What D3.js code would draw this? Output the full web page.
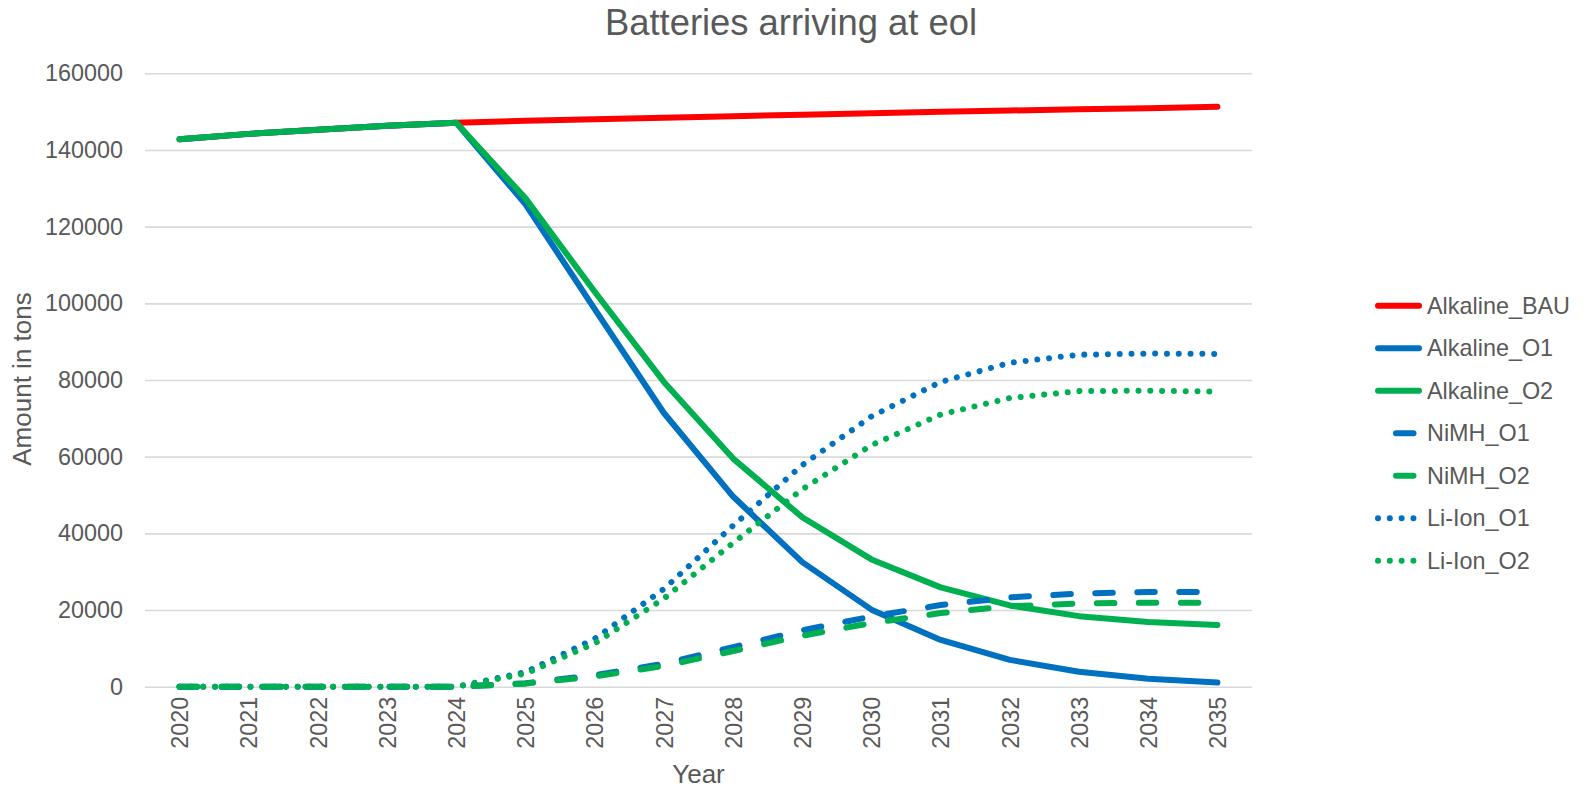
<!DOCTYPE html>
<html>
<head>
<meta charset="utf-8">
<script src="https://cdn.jsdelivr.net/npm/d3@7"></script>
<style>
  html, body { margin: 0; padding: 0; background: #fff; }
  svg { display: block; font-family: "Liberation Sans", Arial, sans-serif; }
</style>
</head>
<body>
<svg id="chart" width="1588" height="790"></svg>
<script>
// ---- data ----
const years = ["2020","2021","2022","2023","2024","2025","2026","2027","2028","2029","2030","2031","2032","2033","2034","2035"];
const alkalineBAU = [142800,144200,145300,146300,147100,147600,148000,148400,148800,149200,149600,150000,150300,150600,150900,151300];
const alkalineO1  = [142800,144200,145300,146300,147100,125800,98500,71400,49600,32500,20100,12200,7000,3900,2100,1100];
const alkalineO2  = [142800,144200,145300,146300,147100,127400,103000,79500,59500,44200,33200,25900,21200,18400,16900,16100];
const nimhO1      = [0,0,0,0,0,900,3000,6000,10300,14700,18300,21300,23300,24300,24700,24700];
const nimhO2      = [0,0,0,0,0,800,2700,5400,9300,13300,16600,19200,21000,21700,21900,21900];
const liionO1     = [0,0,0,0,0,3800,12500,25500,42000,57800,70500,79500,84500,86600,86900,86800];
const liionO2     = [0,0,0,0,0,3400,11300,23000,37500,51500,63000,71000,75300,77100,77200,77000];
const yTicks = [0,20000,40000,60000,80000,100000,120000,140000,160000];
const seriesNames = ["Alkaline_BAU","Alkaline_O1","Alkaline_O2","NiMH_O1","NiMH_O2","Li-Ion_O1","Li-Ion_O2"];

const RED = "#FF0000", BLUE = "#0070C0", GREEN = "#00B050";
const series = [
  {name: seriesNames[0], values: alkalineBAU, color: RED,   style: "solid"},
  {name: seriesNames[1], values: alkalineO1,  color: BLUE,  style: "solid"},
  {name: seriesNames[2], values: alkalineO2,  color: GREEN, style: "solid"},
  {name: seriesNames[3], values: nimhO1,      color: BLUE,  style: "dash"},
  {name: seriesNames[4], values: nimhO2,      color: GREEN, style: "dash"},
  {name: seriesNames[5], values: liionO1,     color: BLUE,  style: "dot"},
  {name: seriesNames[6], values: liionO2,     color: GREEN, style: "dot"}
];

const TEXT = "#595959";
const GRID = "#D9D9D9";
const LW = 6;
const dashArr = {solid: null, dash: "17.5,24.5", dot: "0.01,11.8"};

const svg = d3.select("#chart");
const pLeft = 145, pRight = 1252, pTop = 73.3, pBottom = 686.7;

const x = d3.scalePoint().domain(years).range([pLeft, pRight]).padding(0.5);
const y = d3.scaleLinear().domain([0, 160000]).range([pBottom, pTop]);

// gridlines + y labels
const yAxis = d3.axisLeft(y).tickValues(yTicks).tickSize(-(pRight - pLeft)).tickPadding(22).tickFormat(d3.format("d"));
const gy = svg.append("g").attr("transform", `translate(${pLeft},0)`).call(yAxis);
gy.select(".domain").remove();
gy.selectAll(".tick line").attr("stroke", GRID).attr("stroke-width", 1.6);
gy.selectAll(".tick text").attr("fill", TEXT).attr("font-size", 23.4).attr("font-family", "Liberation Sans, Arial, sans-serif");

// x labels
const xAxis = d3.axisBottom(x).tickSize(0).tickPadding(0);
const gx = svg.append("g").attr("transform", `translate(0,${pBottom})`).call(xAxis);
gx.select(".domain").remove();
gx.selectAll(".tick text")
  .attr("fill", TEXT).attr("font-size", 23.4).attr("font-family", "Liberation Sans, Arial, sans-serif")
  .attr("text-anchor", "end")
  .attr("transform", "translate(0,10) rotate(-90)")
  .attr("x", 0).attr("y", 0).attr("dy", "0.35em");

// lines
const line = d3.line().x((d, i) => x(years[i])).y(d => y(d));
series.forEach(s => {
  svg.append("path")
    .datum(s.values)
    .attr("d", line)
    .attr("fill", "none")
    .attr("stroke", s.color)
    .attr("stroke-width", LW)
    .attr("stroke-linejoin", "round")
    .attr("stroke-linecap", "round")
    .attr("stroke-dasharray", dashArr[s.style]);
});

// title
svg.append("text").attr("x", 791).attr("y", 35).attr("text-anchor", "middle")
  .attr("fill", TEXT).attr("font-size", 36.4).text("Batteries arriving at eol");

// axis titles
svg.append("text").attr("x", (pLeft + pRight) / 2).attr("y", 783).attr("text-anchor", "middle")
  .attr("fill", TEXT).attr("font-size", 26).text("Year");
svg.append("text").attr("transform", "translate(31,379) rotate(-90)").attr("text-anchor", "middle")
  .attr("fill", TEXT).attr("font-size", 26).text("Amount in tons");

// legend
const lg = svg.append("g");
series.forEach((s, i) => {
  const yy = 305.7 + i * 42.5;
  const ln = lg.append("line").attr("x1", 1378).attr("x2", 1419).attr("y1", yy).attr("y2", yy)
    .attr("stroke", s.color).attr("stroke-width", LW).attr("stroke-linecap", "round")
    .attr("stroke-dasharray", dashArr[s.style]);
  if (s.style === "dash") ln.attr("stroke-dashoffset", 24);
  lg.append("text").attr("x", 1427).attr("y", yy).attr("dy", "0.35em")
    .attr("fill", TEXT).attr("font-size", 23.4).text(s.name);
});
</script>
</body>
</html>
